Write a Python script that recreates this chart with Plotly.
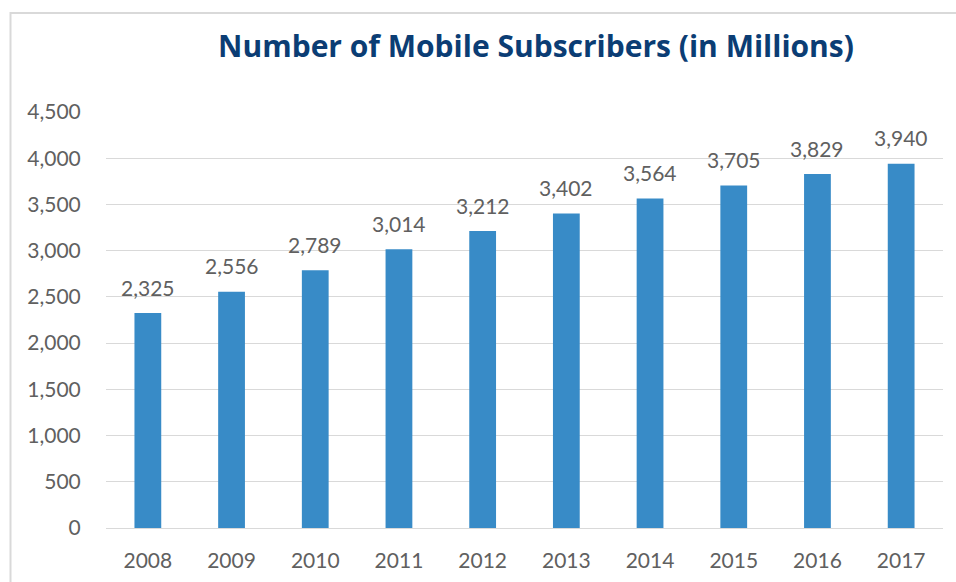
import plotly.graph_objects as go

years = ["2008", "2009", "2010", "2011", "2012", "2013", "2014", "2015", "2016", "2017"]
subscribers = [2325, 2556, 2789, 3014, 3212, 3402, 3564, 3705, 3829, 3940]
y_ticks = [0, 500, 1000, 1500, 2000, 2500, 3000, 3500, 4000, 4500]
title_text = "Number of Mobile Subscribers (in Millions)"

W, H = 956, 582
L, R, T, B = 106, 13, 112, 54
pw, ph = W - L - R, H - T - B
label_font = dict(family="Lato, sans-serif", size=21, color="#606060")

fig = go.Figure()
fig.add_trace(go.Bar(
    x=years, y=subscribers,
    marker=dict(color="#388bc7", line=dict(width=0)),
    width=0.32,
))

# category axis: annotations positioned by category index
for i, v in enumerate(subscribers):
    fig.add_annotation(x=i, y=v, text=f"{v:,}", showarrow=False,
                       xref="x", yref="y", yanchor="middle", yshift=26,
                       font=label_font)

def px(x):
    return (x - L) / pw

def py(y):
    return (H - B - y) / ph

fig.update_layout(
    width=W, height=H,
    margin=dict(l=L, r=R, t=T, b=B, autoexpand=False),
    paper_bgcolor="white", plot_bgcolor="white",
    showlegend=False,
    title=dict(text="<b>" + title_text + "</b>", x=536 / W, xanchor="center",
               y=1 - 46 / H, yanchor="middle", yref="container",
               font=dict(family="Open Sans, sans-serif", size=30, color="#0b3d74")),
    xaxis=dict(type="category", categoryarray=years, range=[-0.5, len(years) - 0.5],
               automargin=False,
               showgrid=False, showline=False, zeroline=False,
               tickfont=label_font,
               ticks="outside", ticklen=14, tickcolor="rgba(0,0,0,0)"),
    yaxis=dict(range=[0, 4500], tickvals=y_ticks, tickformat=",",
               automargin=False,
               showgrid=True, gridcolor="#d9d9d9", gridwidth=1,
               zeroline=True, zerolinecolor="#d9d9d9", zerolinewidth=1,
               showline=False,
               tickfont=label_font,
               ticks="outside", ticklen=20, tickcolor="rgba(0,0,0,0)"),
    shapes=[dict(type="path", xref="paper", yref="paper",
                 path=f"M {px(10.5)},{py(600)} L {px(10.5)},{py(13)} L {px(960)},{py(13)}",
                 line=dict(color="#d9d9d9", width=2))],
)

fig.write_html("out.html")
